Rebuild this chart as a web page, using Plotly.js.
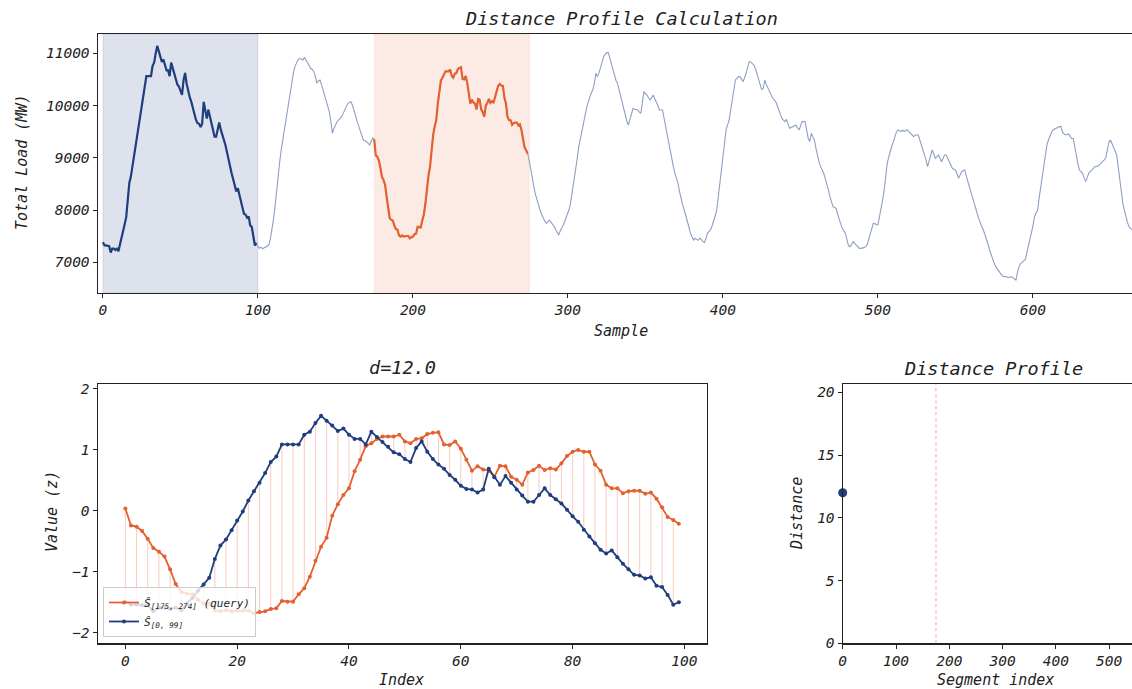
<!DOCTYPE html>
<html>
<head>
<meta charset="utf-8">
<script src="https://cdn.plot.ly/plotly-3.0.1.min.js"></script>
<style>
  html, body { margin: 0; padding: 0; background: #ffffff; }
  #chart { width: 1132px; height: 689px; }
</style>
</head>
<body>
<div id="chart"></div>
<script>
// Hourly total load (MW), one value per sample
const loadMW = [
  7383,7322,7322,7309,7309,7186,7260,7260,7235,7260,
  7211,7346,7457,7605,7728,7864,8246,8517,8640,8825,
  9022,9207,9428,9613,9786,9983,10205,10315,10562,10562,
  10562,10562,10759,10821,10993,11141,11042,10944,10833,10882,
  10759,10673,10673,10562,10821,10710,10611,10513,10402,10365,
  10266,10205,10488,10623,10414,10266,10155,10069,9946,9847,
  9724,9663,9650,9589,9650,10069,9897,9749,9921,9786,
  9650,9527,9404,9404,9539,9675,9539,9453,9367,9244,
  9108,8997,8837,8702,8566,8431,8357,8418,8283,8147,
  8036,7925,7913,7851,7876,7704,7679,7519,7322,7371,
  7300,7268,7290,7260,7280,7299,7310,7330,7450,7600,
  7820,8064,8380,8703,8920,9150,9341,9560,9730,9900,
  10100,10234,10450,10648,10760,10839,10880,10904,10880,10872,
  10923,10870,10809,10760,10713,10690,10648,10560,10426,10470,
  10489,10400,10298,10180,10043,9960,9882,9700,9469,9560,
  9628,9690,9723,9760,9787,9850,9915,9960,10043,10060,
  10074,10000,9915,9800,9691,9600,9500,9420,9341,9330,
  9308,9280,9245,9300,9380,
  9354,9046,9023,8946,8803,8638,8572,8484,8252,7988,
  7844,7811,7800,7701,7635,7624,7514,7492,7514,7492,
  7503,7503,7503,7459,7481,7492,7536,7547,7679,7668,
  7668,7800,7910,8120,8406,8660,8825,9222,9431,9597,
  9718,10026,10236,10478,10533,10610,10654,10654,10654,10688,
  10566,10533,10610,10621,10699,10721,10732,10511,10500,10566,
  10434,10236,10037,10114,10059,10037,9927,10125,10114,9927,
  9872,9784,10004,10048,10125,10048,10081,10059,10170,10302,
  10379,10412,10379,10379,10148,10037,9784,9718,9718,9630,
  9663,9674,9674,9619,9641,9530,9376,9200,9145,9079,
  8950,8760,8620,8447,8300,8192,8080,8001,7920,7841,
  7790,7746,7780,7809,7770,7733,7690,7631,7560,7522,
  7600,7650,7714,7790,7873,7950,8033,8200,8384,8570,
  8766,8990,9213,9370,9532,9690,9851,9950,10060,10170,
  10240,10298,10420,10617,10553,10620,10744,10830,10936,10980,
  11012,11012,10900,10808,10700,10553,10480,10425,10300,10170,
  10080,9979,9850,9700,9628,9740,9851,9947,9930,9915,
  9915,9880,9851,10050,10266,10230,10202,10150,10106,10150,
  10202,10130,10074,10000,9915,9915,9915,9760,9596,9450,
  9309,9130,8958,8830,8703,8600,8511,8350,8192,8100,
  8001,7900,7809,7680,7554,7490,7427,7459,7440,7420,
  7459,7440,7400,7376,7450,7554,7590,7618,7700,7778,
  7890,8001,8250,8511,8770,9022,9280,9532,9630,9723,
  9910,10106,10300,10489,10520,10553,10553,10500,10457,10540,
  10617,10744,10840,10830,10808,10776,10700,10600,10489,10361,
  10298,10330,10489,10400,10330,10270,10202,10150,10106,10074,
  10000,9915,9800,9755,9720,9692,9736,9650,9564,9580,
  9596,9610,9628,9580,9532,9600,9692,9692,9692,9530,
  9372,9309,9468,9400,9341,9180,9022,8920,8830,8770,
  8703,8600,8511,8390,8256,8160,8065,8050,8033,7920,
  7809,7730,7650,7600,7554,7430,7320,7299,7350,7395,
  7360,7331,7300,7267,7267,7267,7280,7300,7331,7440,
  7554,7650,7746,7740,7714,7720,7870,8001,8190,8384,
  8640,8894,9020,9149,9230,9309,9400,9500,9532,9520,
  9500,9530,9500,9520,9532,9500,9468,9440,9404,9436,
  9436,9436,9340,9245,9165,9085,8960,8830,8940,9054,
  9149,9070,8990,9020,9054,8990,8926,8990,9054,9054,
  8990,8958,8880,8798,8780,8766,8700,8607,8670,8734,
  8750,8766,8650,8543,8430,8320,8230,8128,8030,7937,
  7840,7746,7680,7618,7540,7459,7350,7235,7140,7044,
  6980,6916,6870,6820,6780,6744,6730,6725,6725,6725,
  6710,6725,6700,6693,6661,6800,6916,6970,7012,7030,
  7044,7170,7299,7430,7554,7700,7873,7950,8001,8230,
  8447,8670,8894,9070,9245,9340,9436,9490,9532,9550,
  9564,9580,9596,9600,9500,9460,9436,9445,9455,9410,
  9372,9370,9200,9022,8890,8766,8740,8703,8620,8543,
  8620,8703,8734,8766,8800,8830,8836,8843,8870,8894,
  8920,8958,9000,9150,9300,9341,9280,9213,9130,9054,
  8800,8575,8350,8128,8000,7841,7760,7682,7650,7618
];

// Segment windows [start, end] (inclusive sample indices)
const refSpan = [0, 99];
const querySpan = [175, 274];

// z-normalised query segment S[175..274]
const zQuery = [
  0.04,-0.24,-0.26,-0.33,-0.46,-0.61,-0.67,-0.75,-0.96,-1.20,
  -1.33,-1.36,-1.37,-1.46,-1.52,-1.53,-1.63,-1.65,-1.63,-1.65,
  -1.64,-1.64,-1.64,-1.68,-1.66,-1.65,-1.61,-1.60,-1.48,-1.49,
  -1.49,-1.37,-1.27,-1.08,-0.82,-0.59,-0.44,-0.08,0.11,0.26,
  0.37,0.65,0.84,1.06,1.11,1.18,1.22,1.22,1.22,1.25,
  1.14,1.11,1.18,1.19,1.26,1.28,1.29,1.09,1.08,1.14,
  1.02,0.84,0.66,0.73,0.68,0.66,0.56,0.74,0.73,0.56,
  0.51,0.43,0.63,0.67,0.74,0.67,0.70,0.68,0.78,0.90,
  0.97,1.00,0.97,0.97,0.76,0.66,0.43,0.37,0.37,0.29,
  0.32,0.33,0.33,0.28,0.30,0.20,0.06,-0.10,-0.15,-0.21
];

// z-normalised reference segment S[0..99]
const zRef = [
  -1.49,-1.54,-1.54,-1.55,-1.55,-1.65,-1.59,-1.59,-1.61,-1.59,
  -1.63,-1.52,-1.43,-1.31,-1.21,-1.10,-0.79,-0.57,-0.47,-0.32,
  -0.16,-0.01,0.17,0.32,0.46,0.62,0.80,0.89,1.09,1.09,
  1.09,1.09,1.25,1.30,1.44,1.56,1.48,1.40,1.31,1.35,
  1.25,1.18,1.18,1.09,1.30,1.21,1.13,1.05,0.96,0.93,
  0.85,0.80,1.03,1.14,0.97,0.85,0.76,0.69,0.59,0.51,
  0.41,0.36,0.35,0.30,0.35,0.69,0.55,0.43,0.57,0.46,
  0.35,0.25,0.15,0.15,0.26,0.37,0.26,0.19,0.12,0.02,
  -0.09,-0.18,-0.31,-0.42,-0.53,-0.64,-0.70,-0.65,-0.76,-0.87,
  -0.96,-1.05,-1.06,-1.11,-1.09,-1.23,-1.25,-1.38,-1.54,-1.50
];

// Euclidean distance between the two z-normalised segments
const DIST = 12.0;
// Distance profile computed so far: segment start index and its distance
const profileIdx = [0];
const profileDist = [DIST];

// ---- styling ----
const NAVY = '#1f3d7f';
const ORANGE = '#e4612f';
const TRACE_BG = '#8e9fc3';
const INK = '#222222';
const FONT = 'DejaVu Sans Mono, Liberation Mono, monospace';
const W = 1132, H = 689;
const px = v => v / W;          // horizontal pixel -> paper fraction
const py = v => 1 - v / H;      // vertical pixel -> paper fraction

const range = (a, b) => Array.from({length: b - a + 1}, (_, i) => a + i);
const sampleIdx = range(0, loadMW.length - 1);
const refIdx = range(refSpan[0], refSpan[1]);
const queryIdx = range(querySpan[0], querySpan[1]);
const segIdx = range(0, zQuery.length - 1);

// vertical connectors between the two z-series (every second index)
const connX = [], connY = [];
for (let i = 0; i < zQuery.length; i += 2) {
  connX.push(i, i, null);
  connY.push(zQuery[i], zRef[i], null);
}

const traces = [
  { x: sampleIdx, y: loadMW, type: 'scatter', mode: 'lines',
    line: {color: TRACE_BG, width: 1.1}, xaxis: 'x', yaxis: 'y',
    showlegend: false, hoverinfo: 'skip' },
  { x: refIdx, y: refIdx.map(i => loadMW[i]), type: 'scatter', mode: 'lines',
    line: {color: NAVY, width: 2.2}, xaxis: 'x', yaxis: 'y', showlegend: false },
  { x: queryIdx, y: queryIdx.map(i => loadMW[i]), type: 'scatter', mode: 'lines',
    line: {color: ORANGE, width: 2.2}, xaxis: 'x', yaxis: 'y', showlegend: false },

  { x: connX, y: connY, type: 'scatter', mode: 'lines',
    line: {color: 'rgba(240,140,110,0.45)', width: 1}, xaxis: 'x2', yaxis: 'y2',
    showlegend: false, hoverinfo: 'skip' },
  { x: segIdx, y: zQuery, type: 'scatter', mode: 'lines+markers',
    name: 'Ŝ<sub>[' + querySpan[0] + ', ' + querySpan[1] + ']</sub> (query)',
    line: {color: ORANGE, width: 1.8}, marker: {color: ORANGE, size: 4},
    xaxis: 'x2', yaxis: 'y2' },
  { x: segIdx, y: zRef, type: 'scatter', mode: 'lines+markers',
    name: 'Ŝ<sub>[' + refSpan[0] + ', ' + refSpan[1] + ']</sub>',
    line: {color: NAVY, width: 1.8}, marker: {color: NAVY, size: 4},
    xaxis: 'x2', yaxis: 'y2' },

  { x: profileIdx, y: profileDist, type: 'scatter', mode: 'markers',
    marker: {color: NAVY, size: 9}, cliponaxis: false,
    xaxis: 'x3', yaxis: 'y3', showlegend: false }
];

const tickFont = {family: FONT, size: 14.5, color: INK, style: 'italic'};
const axisBase = {
  showgrid: false, zeroline: false, showline: true, linecolor: INK, linewidth: 1.2,
  ticks: 'outside', ticklen: 4, tickwidth: 1, tickcolor: INK, tickfont: tickFont,
  tickformat: 'd', fixedrange: true
};

const label = (text, x, y, size, angle) => ({
  text, x: px(x), y: py(y), xref: 'paper', yref: 'paper',
  xanchor: 'center', yanchor: 'middle', showarrow: false, textangle: angle || 0,
  font: {family: FONT, size: size, color: INK, style: 'italic'}
});

const layout = {
  width: W, height: H,
  margin: {l: 0, r: 0, t: 0, b: 0},
  paper_bgcolor: '#ffffff', plot_bgcolor: '#ffffff',
  showlegend: true,
  legend: {
    x: px(103), y: py(637), xanchor: 'left', yanchor: 'bottom',
    bgcolor: 'rgba(255,255,255,0.8)', bordercolor: '#cccccc', borderwidth: 1,
    font: {family: FONT, size: 11, color: INK, style: 'italic'},
    itemwidth: 30, tracegroupgap: 2
  },
  xaxis: Object.assign({}, axisBase, {
    domain: [px(97.7), 1], range: [-3.4, 663.9], mirror: true,
    tickvals: [0, 100, 200, 300, 400, 500, 600], anchor: 'y'
  }),
  yaxis: Object.assign({}, axisBase, {
    domain: [py(292.7), py(34)], range: [6418, 11369],
    tickvals: [7000, 8000, 9000, 10000, 11000], anchor: 'x'
  }),
  xaxis2: Object.assign({}, axisBase, {
    domain: [px(97.7), px(706.5)], range: [-4.95, 103.95], mirror: true,
    tickvals: [0, 20, 40, 60, 80, 100], anchor: 'y2'
  }),
  yaxis2: Object.assign({}, axisBase, {
    domain: [py(643.3), py(384.3)], range: [-2.174, 2.077], mirror: true,
    tickvals: [-2, -1, 0, 1, 2], anchor: 'x2'
  }),
  xaxis3: Object.assign({}, axisBase, {
    domain: [px(842.7), 1], range: [0, 542.8], mirror: true,
    tickvals: [0, 100, 200, 300, 400, 500], anchor: 'y3'
  }),
  yaxis3: Object.assign({}, axisBase, {
    domain: [py(643.3), py(384.3)], range: [0, 20.64],
    tickvals: [0, 5, 10, 15, 20], anchor: 'x3'
  }),
  shapes: [
    { type: 'rect', xref: 'x', yref: 'y domain', x0: refSpan[0], x1: refSpan[1] + 1,
      y0: 0, y1: 1, fillcolor: 'rgba(31,61,127,0.15)',
      line: {color: 'rgba(31,61,127,0.12)', width: 1}, layer: 'below' },
    { type: 'rect', xref: 'x', yref: 'y domain', x0: querySpan[0], x1: querySpan[1] + 1,
      y0: 0, y1: 1, fillcolor: 'rgba(228,97,47,0.13)',
      line: {color: 'rgba(228,97,47,0.1)', width: 1}, layer: 'below' },
    { type: 'line', xref: 'x3', yref: 'y3 domain', x0: querySpan[0], x1: querySpan[0],
      y0: 0, y1: 1, line: {color: 'rgba(240,140,110,0.75)', width: 1, dash: 'dot'} }
  ],
  annotations: [
    label('Distance Profile Calculation', 621, 18, 18.5),
    label('Sample', 621, 331, 15),
    label('Total Load (MW)', 22, 163, 15, -90),
    label('d=' + DIST.toFixed(1), 402, 367, 18.5),
    label('Value (z)', 52, 512, 15, -90),
    label('Index', 401, 680, 15),
    label('Distance Profile', 993, 368, 18.5),
    label('Distance', 797, 514, 15, -90),
    label('Segment index', 995, 680, 15)
  ]
};

Plotly.newPlot('chart', traces, layout, {displayModeBar: false, staticPlot: true});
</script>
</body>
</html>
